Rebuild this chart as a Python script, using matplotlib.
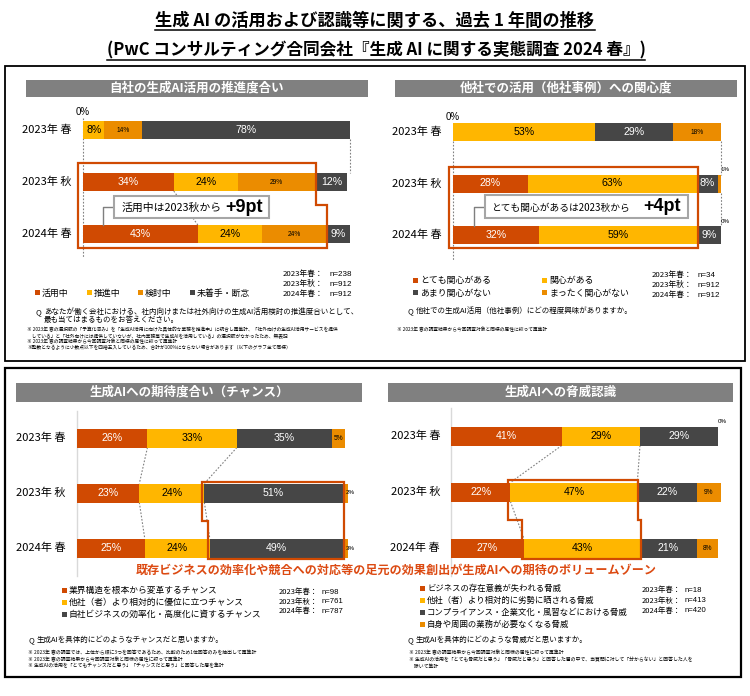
import numpy as np
import matplotlib
matplotlib.use("Agg")
import matplotlib.pyplot as plt
from matplotlib.patches import Rectangle, Polygon
from matplotlib.lines import Line2D

plt.rcParams['font.family'] = ['Noto Sans CJK JP', 'DejaVu Sans']
NUM = ['Liberation Sans', 'DejaVu Sans']

W, H = 750, 696
RED = '#D04A02'
YEL = '#FFB600'
ORG = '#EB8C00'
GRY = '#464646'
HDR = '#808080'
TXT_RED = '#DC4A12'

years = ["2023年 春", "2023年 秋", "2024年 春"]
n_years = ["2023年春：", "2023年秋：", "2024年春："]

# 自社の生成AI活用の推進度合い
p1_names = ["活用中", "推進中", "検討中", "未着手・断念"]
p1_using = [0, 34, 43]
p1_promoting = [8, 24, 24]
p1_considering = [14, 29, 24]
p1_not_started = [78, 12, 9]
p1_n = [238, 912, 912]

# 他社での活用（他社事例）への関心度
p2_names = ["とても関心がある", "関心がある", "あまり関心がない", "まったく関心がない"]
p2_very = [0, 28, 32]
p2_some = [53, 63, 59]
p2_little = [29, 8, 9]
p2_none = [18, 1, 0]
p2_n = [34, 912, 912]

# 生成AIへの期待度合い（チャンス）
p3_names = ["業界構造を根本から変革するチャンス", "他社（者）より相対的に優位に立つチャンス",
            "自社ビジネスの効率化・高度化に資するチャンス"]
p3_transform = [26, 23, 25]
p3_advantage = [33, 24, 24]
p3_efficiency = [35, 51, 49]
p3_other = [5, 2, 3]
p3_n = [98, 761, 787]

# 生成AIへの脅威認識
p4_names = ["ビジネスの存在意義が失われる脅威", "他社（者）より相対的に劣勢に晒される脅威",
            "コンプライアンス・企業文化・風習などにおける脅威", "自身や周囲の業務が必要なくなる脅威"]
p4_obsolete = [41, 22, 27]
p4_disadvantage = [29, 47, 43]
p4_compliance = [29, 22, 21]
p4_job_loss = [0, 9, 8]
p4_n = [18, 413, 420]

fig = plt.figure(figsize=(7.5, 6.96), dpi=100)


def fx(x):
    return x / W


def fy(y):
    return 1 - y / H


def ftext(x, y, s, size, **kw):
    kw.setdefault('va', 'center')
    return fig.text(fx(x), fy(y), s, fontsize=size, **kw)


def frect(x0, y0, x1, y1, **kw):
    r = Rectangle((fx(x0), fy(y1)), (x1 - x0) / W, (y1 - y0) / H,
                  transform=fig.transFigure, **kw)
    fig.add_artist(r)


def fline(xs, ys, **kw):
    fig.add_artist(Line2D([fx(x) for x in xs], [fy(y) for y in ys],
                          transform=fig.transFigure, **kw))


def header(x0, x1, y0, y1, s):
    frect(x0, y0, x1, y1, color=HDR, lw=0)
    ftext((x0 + x1) / 2, (y0 + y1) / 2, s, 9, color='white', ha='center', weight='bold')


def add_panel(x0, x100, rows_y, series, colors, bar_h, tiny='above'):
    sp = (rows_y[2] - rows_y[0]) / 2
    top, bot = rows_y[0] - sp, rows_y[2] + sp
    ax = fig.add_axes([fx(x0), fy(bot), (x100 - x0) / W, (bot - top) / H])
    ax.set_xlim(0, 100)
    ax.set_ylim(3, -1)
    ax.axis('off')
    h = bar_h / sp
    kx = 100 / (x100 - x0)
    ypos = np.arange(3)
    left = np.zeros(3)
    starts = []
    for vals, c in zip(series, colors):
        vals = np.array(vals, float)
        ax.barh(ypos, vals, left=left, height=h, color=c, zorder=2)
        starts.append(left.copy())
        for i, v in enumerate(vals):
            if c == ORG and v < 4:
                if tiny == 'above':
                    ax.text(left[i] + v + 1.5, i - h / 2 - 0.04, f"{v:.0f}%", fontsize=4.5,
                            family=NUM, ha='center', va='bottom', zorder=4)
                else:
                    ax.text(left[i] + 3 * kx, i, f"{v:.0f}%", fontsize=4.5, family=NUM,
                            ha='left', va='center', zorder=7)
            elif c == ORG:
                ax.text(left[i] + v / 2, i, f"{v:.0f}%", fontsize=4.8, family=NUM,
                        ha='center', va='center', zorder=4)
            elif v > 0:
                tc = 'white' if c in (RED, GRY) else 'black'
                ax.text(left[i] + v / 2, i, f"{v:.0f}%", fontsize=7.6, family=NUM,
                        ha='center', va='center', color=tc, zorder=4)
        left = left + vals
    for i, lab in enumerate(years):
        ax.text(-11 * kx, i, lab, fontsize=8, ha='right', va='center')
    return dict(ax=ax, h=h, starts=starts, kx=kx, sp=sp, r0=rows_y[0])


def dotted(p, x, ya, yb):
    p['ax'].plot([x[0], x[1]], [ya, yb], color='#808080', lw=0.8,
                 ls=(0, (1.5, 1.5)), zorder=1, clip_on=False)


def connect(p, seg, ra, rb):
    st = p['starts']
    end_a = st[seg + 1][ra] if seg + 1 < len(st) else 100
    end_b = st[seg + 1][rb] if seg + 1 < len(st) else 100
    dotted(p, (end_a, end_b), ra + p['h'] / 2, rb - p['h'] / 2)


def outline(p, a, b, pads, mid):
    h = p['h']
    kx, ky = p['kx'], 1 / p['sp']
    pl, pr, pt, pb = pads[0] * kx, pads[1] * kx, pads[2] * ky, pads[3] * ky
    top, bot = 1 - h / 2 - pt, 2 + h / 2 + pb
    pts = [(a[0] - pl, top), (b[0] + pr, top), (b[0] + pr, mid), (b[1] + pr, mid),
           (b[1] + pr, bot), (a[1] - pl, bot), (a[1] - pl, mid), (a[0] - pl, mid)]
    p['ax'].add_patch(Polygon(pts, closed=True, fill=False, ec=RED, lw=1.6,
                              clip_on=False, zorder=6, joinstyle='miter'))


def legend_item(x, y, color, label, size):
    frect(x, y - 2.5, x + 5, y + 2.5, color=color, lw=0)
    ftext(x + 7, y, label, size)


def callout(x0, y0, x1, y1, lx, ly, s, big, tx, bx, size):
    ym = (y0 + y1) / 2
    fline([x0, lx, lx], [ym, ym, ly], color='#7F7F7F', lw=1, zorder=7)
    frect(x0, y0, x1, y1, fc='white', ec='#A6A6A6', lw=1.5, zorder=8)
    ftext(tx, ym + 1, s, size, zorder=9)
    ftext(bx, ym, big, 13, family=NUM, weight='bold', zorder=9)


# titles
t1 = ftext(375, 21, "生成 AI の活用および認識等に関する、過去 1 年間の推移", 12.4, ha='center', weight='bold')
t2 = ftext(376, 50, "(PwC コンサルティング合同会社『生成 AI に関する実態調査 2024 春』)", 12,
           ha='center', weight='bold')
fig.canvas.draw()
for t, uy in ((t1, 30), (t2, 60)):
    bb = t.get_window_extent()
    fline([bb.x0, bb.x1], [uy, uy], color='black', lw=1.1)

# outer boxes
frect(5, 66, 745, 361, fill=False, ec='black', lw=1.3)
frect(5, 368, 741, 677, fill=False, ec='black', lw=1.6)

# ---------- panel 1 ----------
header(26, 368, 80, 97, "自社の生成AI活用の推進度合い")
p1 = add_panel(83, 350, [130, 182, 234],
               [p1_using, p1_promoting, p1_considering, p1_not_started],
               [RED, YEL, ORG, GRY], 18)
h = p1['h']
dotted(p1, (0, 0), -0.24, 2.47)
dotted(p1, (100, 100), h / 2, 1 - h / 2)
connect(p1, 0, 1, 2)
p1['ax'].text(0, (112 - 130) / p1['sp'], "0%", fontsize=7, family=NUM, ha='center', va='center')
outline(p1, (p1['starts'][0][1], p1['starts'][0][2]), (p1['starts'][3][1], p1['starts'][3][2]),
        (5, 1, 10, 5), (205 - 130) / p1['sp'])
callout(114, 196, 269, 218, 103, 225, "活用中は2023秋から", "+9pt", 122, 225, 7.8)
for x, c, lab in zip([35, 87, 138, 190], [RED, YEL, ORG, GRY], p1_names):
    legend_item(x, 293, c, lab, 6.4)
for i in range(3):
    ftext(283, 274 + 10 * i, n_years[i], 5.6)
    ftext(330, 274 + 10 * i, f"n={p1_n[i]}", 5.8, family=NUM)
ftext(35, 312, "Q", 5.6)
ftext(44, 312, "あなたが働く会社における、社内向けまたは社外向けの生成AI活用検討の推進度合いとして、", 5.4)
ftext(44, 320, "最も当てはまるものをお答えください。", 5.4)
p1_notes = [
    "※ 2023年 春の選択肢の「予算化済み」を「生成AI活用に向けた具体的な業務を推進中」に統合し再集計、「社外向けの生成AI活用サービスを提供",
    "　している」と「社外向けには提供していないが、社内業務等で生成AIを活用している」の選択肢がなかったため、無表記",
    "※ 2023年 春の調査結果から今回調査対象と同様の属性に絞って再集計",
    "※整数となるように小数点以下を四捨五入しているため、合計が100%にならない場合があります（以下のグラフ全て同様）",
]
for i, s in enumerate(p1_notes):
    ftext(27, 330 + 6 * i, s, 3.4)

# ---------- panel 2 ----------
header(395, 737, 80, 97, "他社での活用（他社事例）への関心度")
p2 = add_panel(453, 721, [132, 183.5, 235],
               [p2_very, p2_some, p2_little, p2_none],
               [RED, YEL, GRY, ORG], 18)
h = p2['h']
dotted(p2, (0, 0), h / 2, 2.5)
dotted(p2, (100, 100), h / 2, 1 - h / 2)
dotted(p2, (100, 100), 1 + h / 2, 2 - h / 2)
p2['ax'].text(0, (117 - 132) / p2['sp'], "0%", fontsize=7, family=NUM, ha='center', va='center')
outline(p2, (p2['starts'][0][1], p2['starts'][0][2]), (p2['starts'][2][1], p2['starts'][2][2]),
        (4, 1, 8, 4), 1.5)
callout(485, 195, 688, 218, 474, 226, "とても関心があるは2023秋から", "+4pt", 491, 643, 7.0)
for (x, y), c, lab in zip([(413, 280), (542, 280), (413, 293), (542, 293)],
                          [RED, YEL, GRY, ORG], p2_names):
    legend_item(x, y, c, lab, 6.4)
for i in range(3):
    ftext(652, 275 + 10 * i, n_years[i], 5.6)
    ftext(698, 275 + 10 * i, f"n={p2_n[i]}", 5.8, family=NUM)
ftext(407, 311, "Q", 5.6)
ftext(416, 311, "他社での生成AI活用（他社事例）にどの程度興味がありますか。", 5.4)
ftext(397, 330, "※ 2023年 春の調査結果から今回調査対象と同様の属性に絞って再集計", 3.4)

# ---------- panel 3 ----------
header(16, 362, 383, 402, "生成AIへの期待度合い（チャンス）")
p3 = add_panel(77, 348, [438, 493, 548],
               [p3_transform, p3_advantage, p3_efficiency, p3_other],
               [RED, YEL, GRY, ORG], 19, tiny='right')
p3['ax'].plot([0, 0], [-0.5, 2.5], color='#D9D9D9', lw=1, zorder=1, clip_on=False)
for seg in (0, 1):
    connect(p3, seg, 0, 1)
    connect(p3, seg, 1, 2)
outline(p3, (p3['starts'][2][1], p3['starts'][2][2]), (p3['starts'][3][1], p3['starts'][3][2]),
        (2, 1, 2, 1), 1.5)
for i, (c, lab) in enumerate(zip([RED, YEL, GRY], p3_names)):
    legend_item(62, 590 + 12 * i, c, lab, 6.3)
for i in range(3):
    ftext(279, 592 + 9.7 * i, n_years[i], 5.4)
    ftext(322, 592 + 9.7 * i, f"n={p3_n[i]}", 5.6, family=NUM)
ftext(28, 640, "Q", 5.6)
ftext(37, 640, "生成AIを具体的にどのようなチャンスだと思いますか。", 5.4)
p3_notes = [
    "※ 2023年 春の調査では、上位から順に3つを回答であるため、比較のため1位回答のみを抽出して再集計",
    "※ 2023年 春の調査結果から今回調査対象と同様の属性に絞って再集計",
    "※ 生成AIの活用を「とてもチャンスだと思う」「チャンスだと思う」と回答した層を集計",
]
for i, s in enumerate(p3_notes):
    ftext(28, 652 + 7 * i, s, 3.5)

# ---------- panel 4 ----------
header(388, 733, 383, 402, "生成AIへの脅威認識")
p4 = add_panel(451, 721, [436, 492, 548],
               [p4_obsolete, p4_disadvantage, p4_compliance, p4_job_loss],
               [RED, YEL, GRY, ORG], 19)
p4['ax'].plot([0, 0], [-0.5, 2.5], color='#D9D9D9', lw=1, zorder=1, clip_on=False)
connect(p4, 0, 0, 1)
connect(p4, 1, 0, 1)
connect(p4, 0, 1, 2)
outline(p4, (p4['starts'][1][1], p4['starts'][1][2]), (p4['starts'][2][1], p4['starts'][2][2]),
        (2, 1, 3, 1), 1.5)
for i, (c, lab) in enumerate(zip([RED, YEL, GRY, ORG], p4_names)):
    legend_item(420, 588 + 12 * i, c, lab, 6.0)
for i in range(3):
    ftext(642, 590 + 10.5 * i, n_years[i], 5.4)
    ftext(685, 590 + 10.5 * i, f"n={p4_n[i]}", 5.6, family=NUM)
ftext(407, 640, "Q", 5.6)
ftext(416, 640, "生成AIを具体的にどのような脅威だと思いますか。", 5.4)
p4_notes = [
    "※ 2023年 春の調査結果から今回調査対象と同様の属性に絞って再集計",
    "※ 生成AIの活用を「とても脅威だと思う」「脅威だと思う」と回答した層の中で、当質問に対して「分からない」と回答した人を",
    "　除いて集計",
]
for i, s in enumerate(p4_notes):
    ftext(409, 652 + 7 * i, s, 3.5)

ftext(396, 570, "既存ビジネスの効率化や競合への対応等の足元の効果創出が生成AIへの期待のボリュームゾーン",
      8.7, ha='center', weight='bold', color=TXT_RED)

fig.savefig("out.png", dpi=100)
